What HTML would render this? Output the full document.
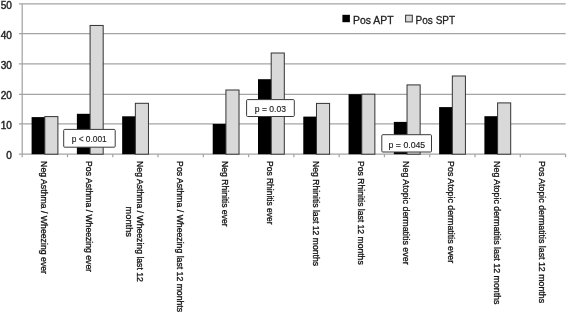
<!DOCTYPE html><html><head><meta charset="utf-8"><style>html,body{margin:0;padding:0;background:#fff;}svg{display:block;filter:grayscale(1);}text{font-family:"Liberation Sans",sans-serif;stroke:currentColor;stroke-width:0.3px;}</style></head><body>
<svg width="567" height="315" viewBox="0 0 567 315">
<rect width="567" height="315" fill="#fff"/>
<line x1="18.9" y1="3.9" x2="565.7" y2="3.9" stroke="#a4a4a4" stroke-width="1.25"/>
<line x1="18.9" y1="33.55" x2="565.7" y2="33.55" stroke="#a4a4a4" stroke-width="1.25"/>
<line x1="18.9" y1="63.8" x2="565.7" y2="63.8" stroke="#a4a4a4" stroke-width="1.25"/>
<line x1="18.9" y1="94.4" x2="565.7" y2="94.4" stroke="#a4a4a4" stroke-width="1.25"/>
<line x1="18.9" y1="123.93" x2="565.7" y2="123.93" stroke="#a4a4a4" stroke-width="1.25"/>
<line x1="18.9" y1="154.2" x2="565.7" y2="154.2" stroke="#a4a4a4" stroke-width="1.25"/>
<line x1="22.2" y1="3.9" x2="22.2" y2="154.2" stroke="#a4a4a4" stroke-width="1.25"/>
<line x1="22.20" y1="154.2" x2="22.20" y2="157.2" stroke="#a4a4a4" stroke-width="1.25"/>
<line x1="67.48" y1="154.2" x2="67.48" y2="157.2" stroke="#a4a4a4" stroke-width="1.25"/>
<line x1="112.76" y1="154.2" x2="112.76" y2="157.2" stroke="#a4a4a4" stroke-width="1.25"/>
<line x1="158.04" y1="154.2" x2="158.04" y2="157.2" stroke="#a4a4a4" stroke-width="1.25"/>
<line x1="203.32" y1="154.2" x2="203.32" y2="157.2" stroke="#a4a4a4" stroke-width="1.25"/>
<line x1="248.60" y1="154.2" x2="248.60" y2="157.2" stroke="#a4a4a4" stroke-width="1.25"/>
<line x1="293.88" y1="154.2" x2="293.88" y2="157.2" stroke="#a4a4a4" stroke-width="1.25"/>
<line x1="339.16" y1="154.2" x2="339.16" y2="157.2" stroke="#a4a4a4" stroke-width="1.25"/>
<line x1="384.44" y1="154.2" x2="384.44" y2="157.2" stroke="#a4a4a4" stroke-width="1.25"/>
<line x1="429.72" y1="154.2" x2="429.72" y2="157.2" stroke="#a4a4a4" stroke-width="1.25"/>
<line x1="475.00" y1="154.2" x2="475.00" y2="157.2" stroke="#a4a4a4" stroke-width="1.25"/>
<line x1="520.28" y1="154.2" x2="520.28" y2="157.2" stroke="#a4a4a4" stroke-width="1.25"/>
<line x1="565.56" y1="154.2" x2="565.56" y2="157.2" stroke="#a4a4a4" stroke-width="1.25"/>
<text x="11.9" y="8.90" font-size="10.1" text-anchor="end" fill="#222" color="#222" style="stroke-width:0.4px">50</text>
<text x="11.9" y="38.55" font-size="10.1" text-anchor="end" fill="#222" color="#222" style="stroke-width:0.4px">40</text>
<text x="11.9" y="68.80" font-size="10.1" text-anchor="end" fill="#222" color="#222" style="stroke-width:0.4px">30</text>
<text x="11.9" y="99.40" font-size="10.1" text-anchor="end" fill="#222" color="#222" style="stroke-width:0.4px">20</text>
<text x="11.9" y="128.93" font-size="10.1" text-anchor="end" fill="#222" color="#222" style="stroke-width:0.4px">10</text>
<text x="11.9" y="159.20" font-size="10.1" text-anchor="end" fill="#222" color="#222" style="stroke-width:0.4px">0</text>
<rect x="31.60" y="117.1" width="13.70" height="37.10" fill="#000"/>
<rect x="44.80" y="116.6" width="13.10" height="37.60" fill="#d9d9d9" stroke="#333" stroke-width="1"/>
<rect x="76.88" y="113.8" width="13.70" height="40.40" fill="#000"/>
<rect x="90.08" y="25.45" width="13.10" height="128.75" fill="#d9d9d9" stroke="#333" stroke-width="1"/>
<rect x="122.16" y="116.3" width="13.70" height="37.90" fill="#000"/>
<rect x="135.36" y="103.3" width="13.10" height="50.90" fill="#d9d9d9" stroke="#333" stroke-width="1"/>
<rect x="212.72" y="123.9" width="13.70" height="30.30" fill="#000"/>
<rect x="225.92" y="90.0" width="13.10" height="64.20" fill="#d9d9d9" stroke="#333" stroke-width="1"/>
<rect x="258.00" y="79.2" width="13.70" height="75.00" fill="#000"/>
<rect x="271.20" y="53.0" width="13.10" height="101.20" fill="#d9d9d9" stroke="#333" stroke-width="1"/>
<rect x="303.28" y="116.6" width="13.70" height="37.60" fill="#000"/>
<rect x="316.48" y="103.4" width="13.10" height="50.80" fill="#d9d9d9" stroke="#333" stroke-width="1"/>
<rect x="348.56" y="94.2" width="13.70" height="60.00" fill="#000"/>
<rect x="361.76" y="94.2" width="13.10" height="60.00" fill="#d9d9d9" stroke="#333" stroke-width="1"/>
<rect x="393.84" y="121.9" width="13.70" height="32.30" fill="#000"/>
<rect x="407.04" y="84.9" width="13.10" height="69.30" fill="#d9d9d9" stroke="#333" stroke-width="1"/>
<rect x="439.12" y="107.1" width="13.70" height="47.10" fill="#000"/>
<rect x="452.32" y="76.0" width="13.10" height="78.20" fill="#d9d9d9" stroke="#333" stroke-width="1"/>
<rect x="484.40" y="116.2" width="13.70" height="38.00" fill="#000"/>
<rect x="497.60" y="102.9" width="13.10" height="51.30" fill="#d9d9d9" stroke="#333" stroke-width="1"/>
<text transform="translate(40.94,161.1) rotate(90)" font-size="9.6" fill="#111" color="#111" textLength="112.9" lengthAdjust="spacingAndGlyphs">Neg Asthma / Wheezing ever</text>
<text transform="translate(86.22,161.1) rotate(90)" font-size="9.6" fill="#111" color="#111" textLength="111.0" lengthAdjust="spacingAndGlyphs">Pos Asthma / Wheezing ever</text>
<text transform="translate(137.10,161.1) rotate(90)" font-size="9.6" fill="#111" color="#111" textLength="120.8" lengthAdjust="spacingAndGlyphs">Neg Asthma / Wheezing last 12</text>
<text transform="translate(126.20,206.6) rotate(90)" font-size="9.6" fill="#111" color="#111" textLength="30.3" lengthAdjust="spacingAndGlyphs">months</text>
<text transform="translate(176.78,161.1) rotate(90)" font-size="9.6" fill="#111" color="#111" textLength="151.0" lengthAdjust="spacingAndGlyphs">Pos Asthma / Wheezing last 12 monhts</text>
<text transform="translate(222.06,161.1) rotate(90)" font-size="9.6" fill="#111" color="#111" textLength="65.5" lengthAdjust="spacingAndGlyphs">Neg Rhinitis ever</text>
<text transform="translate(267.34,161.1) rotate(90)" font-size="9.6" fill="#111" color="#111" textLength="63.4" lengthAdjust="spacingAndGlyphs">Pos Rhinitis ever</text>
<text transform="translate(312.62,161.1) rotate(90)" font-size="9.6" fill="#111" color="#111" textLength="104.9" lengthAdjust="spacingAndGlyphs">Neg Rhinitis last 12 months</text>
<text transform="translate(357.90,161.1) rotate(90)" font-size="9.6" fill="#111" color="#111" textLength="103.6" lengthAdjust="spacingAndGlyphs">Pos Rhinitis last 12 months</text>
<text transform="translate(403.18,161.1) rotate(90)" font-size="9.6" fill="#111" color="#111" textLength="103.5" lengthAdjust="spacingAndGlyphs">Neg Atopic dermatitis ever</text>
<text transform="translate(448.46,161.1) rotate(90)" font-size="9.6" fill="#111" color="#111" textLength="102.1" lengthAdjust="spacingAndGlyphs">Pos Atopic dermatitis ever</text>
<text transform="translate(493.74,161.1) rotate(90)" font-size="9.6" fill="#111" color="#111" textLength="143.4" lengthAdjust="spacingAndGlyphs">Neg Atopic dermatitis last 12 months</text>
<text transform="translate(539.02,161.1) rotate(90)" font-size="9.6" fill="#111" color="#111" textLength="142.0" lengthAdjust="spacingAndGlyphs">Pos Atopic dermatitis last 12 months</text>
<rect x="63.7" y="129.4" width="51.50" height="17.80" rx="1" fill="#fff" stroke="#3a3a3a" stroke-width="1"/>
<text x="71.7" y="142.1" font-size="8.9" fill="#222" color="#222" style="stroke-width:0.15px" textLength="35.0" lengthAdjust="spacingAndGlyphs">p &lt; 0.001</text>
<rect x="246.6" y="99.6" width="47.70" height="16.90" rx="1" fill="#fff" stroke="#3a3a3a" stroke-width="1"/>
<text x="254.8" y="112.3" font-size="8.9" fill="#222" color="#222" style="stroke-width:0.15px" textLength="31.2" lengthAdjust="spacingAndGlyphs">p = 0.03</text>
<rect x="381.8" y="134.7" width="49.70" height="17.30" rx="1" fill="#fff" stroke="#3a3a3a" stroke-width="1"/>
<text x="388.6" y="147.5" font-size="8.9" fill="#222" color="#222" style="stroke-width:0.15px" textLength="36.6" lengthAdjust="spacingAndGlyphs">p = 0.045</text>
<rect x="342.4" y="14.8" width="7.5" height="7.4" fill="#000"/>
<text x="353.0" y="24.4" font-size="10.8" fill="#222" color="#222" textLength="40.6" lengthAdjust="spacingAndGlyphs">Pos APT</text>
<rect x="405.6" y="15.2" width="6.7" height="6.7" fill="#d9d9d9" stroke="#333" stroke-width="1"/>
<text x="415.6" y="24.4" font-size="10.8" fill="#222" color="#222" textLength="39.6" lengthAdjust="spacingAndGlyphs">Pos SPT</text>
</svg></body></html>
